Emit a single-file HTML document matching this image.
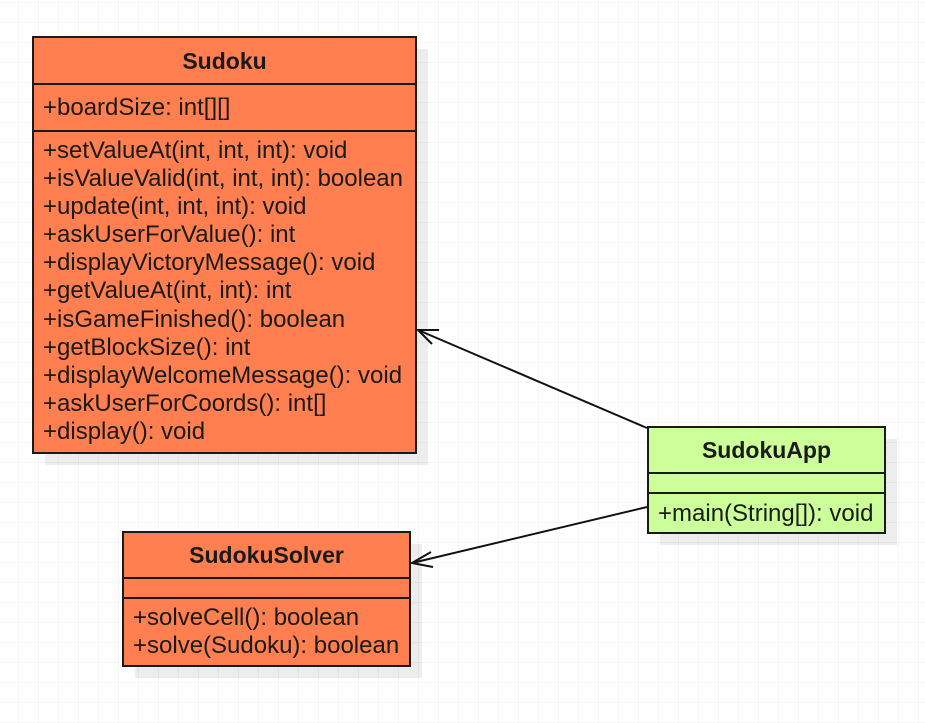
<!DOCTYPE html>
<html><head><meta charset="utf-8"><style>
html,body{margin:0;padding:0;background:#fff;}
svg{display:block;}
text{font-family:"Liberation Sans",sans-serif;fill:#1a1a1a;}
</style></head><body>
<svg width="925" height="723" xmlns="http://www.w3.org/2000/svg">
<defs>
<pattern id="g" x="-1" y="3" width="20" height="20" patternUnits="userSpaceOnUse">
<path d="M20 0V20M0 20H20" stroke="#ececec" stroke-width="1" fill="none"/>
</pattern>
</defs>
<rect width="925" height="723" fill="#fff"/>
<rect width="925" height="723" fill="url(#g)"/>

<rect x="45" y="49" width="383" height="416" fill="#000" opacity="0.07"/>
<rect x="660" y="439" width="237" height="106" fill="#000" opacity="0.07"/>
<rect x="135" y="544" width="287" height="134" fill="#000" opacity="0.07"/>

<g stroke="#1a1a1a" stroke-width="2" fill="#FF7F50">
<rect x="33" y="37" width="383" height="416"/>
<line x1="33" y1="84" x2="416" y2="84"/>
<line x1="33" y1="131" x2="416" y2="131"/>
</g>
<text x="224.5" y="69" font-size="23" font-weight="bold" text-anchor="middle">Sudoku</text>
<g font-size="24">
<text x="43" y="115">+boardSize: int[][]</text>
<text x="43" y="158">+setValueAt(int, int, int): void</text>
<text x="43" y="186">+isValueValid(int, int, int): boolean</text>
<text x="43" y="214">+update(int, int, int): void</text>
<text x="43" y="242">+askUserForValue(): int</text>
<text x="43" y="270">+displayVictoryMessage(): void</text>
<text x="43" y="298">+getValueAt(int, int): int</text>
<text x="43" y="327">+isGameFinished(): boolean</text>
<text x="43" y="355">+getBlockSize(): int</text>
<text x="43" y="383">+displayWelcomeMessage(): void</text>
<text x="43" y="411">+askUserForCoords(): int[]</text>
<text x="43" y="439">+display(): void</text>
</g>

<g stroke="#1a1a1a" stroke-width="2" fill="#CCFF99">
<rect x="648" y="427" width="237" height="106"/>
<line x1="648" y1="473" x2="885" y2="473"/>
<line x1="648" y1="493" x2="885" y2="493"/>
</g>
<text x="766.5" y="458" font-size="23" font-weight="bold" text-anchor="middle">SudokuApp</text>
<text x="658" y="521" font-size="24">+main(String[]): void</text>

<g stroke="#1a1a1a" stroke-width="2" fill="#FF7F50">
<rect x="123" y="532" width="287" height="134"/>
<line x1="123" y1="578" x2="410" y2="578"/>
<line x1="123" y1="598" x2="410" y2="598"/>
</g>
<text x="266.5" y="563" font-size="23" font-weight="bold" text-anchor="middle">SudokuSolver</text>
<text x="133" y="625" font-size="24">+solveCell(): boolean</text>
<text x="133" y="653" font-size="24">+solve(Sudoku): boolean</text>

<g stroke="#111" stroke-width="2" fill="none">
<line x1="647" y1="428" x2="418" y2="330"/>
<polyline points="439,330 418,330 432,344"/>
<line x1="647" y1="507" x2="412" y2="563"/>
<polyline points="431,552 412,563 433,567"/>
</g>
</svg>
</body></html>
